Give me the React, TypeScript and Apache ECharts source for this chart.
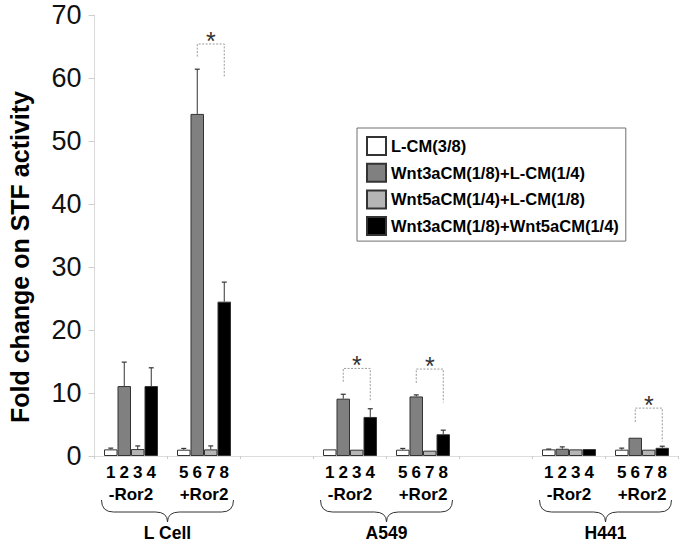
import React, { useEffect, useRef } from "react";
import * as echarts from "echarts";

// ---------- data ----------
const categories = ["-Ror2", "+Ror2", "", "-Ror2", "+Ror2", "", "-Ror2", "+Ror2"];
const laneNumbers = ["1234", "5678", "", "1234", "5678", "", "1234", "5678"];

const seriesNames = [
  "L-CM(3/8)",
  "Wnt3aCM(1/8)+L-CM(1/4)",
  "Wnt5aCM(1/4)+L-CM(1/8)",
  "Wnt3aCM(1/8)+Wnt5aCM(1/4)",
];
const seriesColors = ["#ffffff", "#808080", "#b5b5b5", "#000000"];

const lcm = [1.05, 1.0, null, 1.05, 1.0, null, 1.05, 1.0];
const wnt3a = [11.1, 54.3, null, 9.1, 9.45, null, 1.15, 2.9];
const wnt5a = [1.1, 1.05, null, 1.0, 0.85, null, 1.05, 1.0];
const wnt3a5a = [11.1, 24.5, null, 6.2, 3.45, null, 1.1, 1.3];

const lcmErr = [1.25, 1.2, null, 1.05, 1.2, null, 1.1, 1.25];
const wnt3aErr = [14.9, 61.4, null, 9.8, 9.7, null, 1.45, 2.9];
const wnt5aErr = [1.6, 1.6, null, 1.0, 0.85, null, 1.05, 1.0];
const wnt3a5aErr = [14.0, 27.6, null, 7.5, 4.1, null, 1.1, 1.55];

const bracketSlots = [1, 3, 4, 7];
const bracketLeft = [63.4, 11.8, 11.6, 5.4];
const bracketRight = [60.2, 8.7, 8.5, 2.3];
const bracketTop = [65.4, 13.9, 13.8, 7.6];

const cellLines = ["L Cell", "A549", "H441"];
const cellStart = [0, 3, 6];
const cellEnd = [1, 4, 7];

const yTicks = [0, 10, 20, 30, 40, 50, 60, 70];

// ---------- style constants ----------
const BAR_W = 13.5;
const FONT = "'Liberation Sans', Arial, sans-serif";
const NARROW = "'Liberation Sans Narrow', 'Arial Narrow', 'Liberation Sans', sans-serif";

export default function App() {
  const ref = useRef<HTMLDivElement>(null);

  useEffect(() => {
    if (!ref.current) return;
    const chart = echarts.init(ref.current, undefined, { renderer: "svg" });

    const values = [lcm, wnt3a, wnt5a, wnt3a5a];
    const errs = [lcmErr, wnt3aErr, wnt5aErr, wnt3a5aErr];

    const errData: number[][] = [];
    values.forEach((arr, k) => {
      arr.forEach((v, i) => {
        if (v != null && errs[k][i] != null) errData.push([i, k, v as number, errs[k][i] as number]);
      });
    });

    const bracketData = bracketSlots.map((s, i) => [s, bracketLeft[i], bracketRight[i], bracketTop[i]]);
    const braceData = cellLines.map((n, i) => [cellStart[i], cellEnd[i], i]);

    const barSeries = seriesNames.map((name, k) => ({
      name,
      type: "bar",
      data: values[k],
      barWidth: BAR_W,
      barGap: "0%",
      itemStyle: { color: seriesColors[k], borderColor: "#333", borderWidth: 1 },
      z: 2,
    }));

    const option: any = {
      animation: false,
      textStyle: { fontFamily: FONT },
      grid: { left: 94.5, right: 6.5, top: 15, bottom: 88, containLabel: false },
      legend: {
        orient: "vertical",
        left: 357,
        top: 128,
        padding: [8, 7, 5, 9],
        itemWidth: 19,
        itemHeight: 18,
        itemGap: 6.7,
        borderColor: "#707070",
        borderWidth: 1,
        icon: "rect",
        data: seriesNames,
        textStyle: { fontFamily: FONT, fontWeight: "bold", fontSize: 16.5, color: "#000" },
      },
      xAxis: {
        type: "category",
        data: categories,
        axisLine: { lineStyle: { color: "#dddddd" } },
        axisTick: { show: true, length: 3, lineStyle: { color: "#cccccc" } },
        axisLabel: {
          interval: 0,
          margin: 5,
          formatter: (v: string, i: number) => {
            const d = laneNumbers[i];
            if (!d) return "";
            return d.split("").map((c) => `{d|${c}}`).join("") + `\n{r|${v}}`;
          },
          rich: {
            d: { width: BAR_W, align: "center", fontSize: 17, fontWeight: "bold", lineHeight: 22, color: "#000", fontFamily: FONT },
            r: { fontSize: 17, fontWeight: "bold", lineHeight: 22, color: "#000", fontFamily: FONT },
          },
        },
      },
      yAxis: {
        type: "value",
        min: yTicks[0],
        max: yTicks[yTicks.length - 1],
        interval: 10,
        axisLine: { show: true, lineStyle: { color: "#d9d9d9" } },
        axisTick: { show: true, length: 6, lineStyle: { color: "#d0d0d0" } },
        splitLine: { show: false },
        axisLabel: { fontFamily: NARROW, fontSize: 27, color: "#111", margin: 13 },
      },
      graphic: [
        {
          type: "text",
          x: 20,
          y: 257,
          rotation: Math.PI / 2,
          style: {
            text: "Fold change on STF activity",
            fontFamily: FONT,
            fontWeight: "bold",
            fontSize: 25,
            fill: "#000",
            align: "center",
            verticalAlign: "middle",
            textAlign: "center",
            textVerticalAlign: "middle",
          },
        },
      ],
      series: [
        ...barSeries,
        {
          type: "custom",
          name: "err",
          z: 3,
          data: errData,
          encode: { x: 0, y: 3 },
          renderItem: (params: any, api: any) => {
            const slot = api.value(0);
            const k = api.value(1);
            const v = api.value(2);
            const e = api.value(3);
            if (!(e > v)) return null;
            const top = api.coord([slot, e]);
            const bot = api.coord([slot, v]);
            const x = top[0] + (k - 1.5) * BAR_W;
            return {
              type: "group",
              children: [
                { type: "line", shape: { x1: x, y1: bot[1], x2: x, y2: top[1] }, style: { stroke: "#333", lineWidth: 1 } },
                { type: "line", shape: { x1: x - 2.5, y1: top[1], x2: x + 2.5, y2: top[1] }, style: { stroke: "#333", lineWidth: 1.2 } },
              ],
            };
          },
        },
        {
          type: "custom",
          name: "brackets",
          z: 4,
          data: bracketData,
          encode: { x: 0, y: 3 },
          renderItem: (params: any, api: any) => {
            const slot = api.value(0);
            const l = api.coord([slot, api.value(1)]);
            const r = api.coord([slot, api.value(2)]);
            const t = api.coord([slot, api.value(3)]);
            const xl = t[0] - 0.5 * BAR_W;
            const xr = t[0] + 1.5 * BAR_W;
            return {
              type: "group",
              children: [
                {
                  type: "polyline",
                  shape: { points: [[xl, l[1]], [xl, t[1]], [xr, t[1]], [xr, r[1]]] },
                  style: { stroke: "#9a9a9a", lineWidth: 1, lineDash: [2, 1.5], fill: "none" },
                },
                {
                  type: "text",
                  x: (xl + xr) / 2,
                  y: t[1] - 3,
                  style: {
                    text: "*",
                    fontFamily: FONT,
                    fontWeight: "normal",
                    fontSize: 25,
                    fill: "#333",
                    align: "center",
                    verticalAlign: "middle",
                  },
                },
              ],
            };
          },
        },
        {
          type: "custom",
          name: "braces",
          z: 4,
          data: braceData,
          encode: { x: 0 },
          renderItem: (params: any, api: any) => {
            const a = api.coord([api.value(0), 0]);
            const b = api.coord([api.value(1), 0]);
            const idx = api.value(2);
            const xm = (a[0] + b[0]) / 2;
            const base = a[1];
            const x0 = xm - 66;
            const x1 = xm + 66;
            const y0 = base + 44;
            const y1 = base + 56;
            const y2 = base + 66;
            const r = 12;
            const d =
              `M${x0} ${y0} Q${x0} ${y1} ${x0 + r} ${y1} L${xm - r} ${y1} Q${xm} ${y1} ${xm} ${y2} ` +
              `Q${xm} ${y1} ${xm + r} ${y1} L${x1 - r} ${y1} Q${x1} ${y1} ${x1} ${y0}`;
            return {
              type: "group",
              children: [
                { type: "path", shape: { pathData: d }, style: { stroke: "#333", lineWidth: 1, fill: "none" } },
                {
                  type: "text",
                  x: xm,
                  y: base + 77,
                  style: {
                    text: cellLines[idx],
                    fontFamily: FONT,
                    fontWeight: "bold",
                    fontSize: 17.5,
                    fill: "#000",
                    align: "center",
                    verticalAlign: "middle",
                  },
                },
              ],
            };
          },
        },
      ],
    };

    chart.setOption(option);
    return () => chart.dispose();
  }, []);

  return (
    <div
      ref={ref}
      style={{ position: "fixed", left: 0, top: 0, width: 685, height: 544, background: "#fff" }}
    />
  );
}
